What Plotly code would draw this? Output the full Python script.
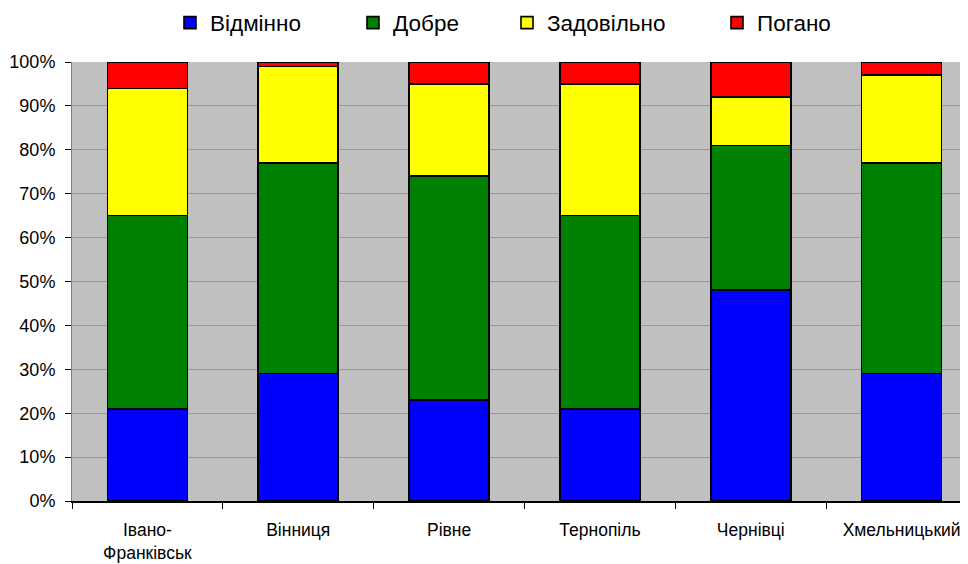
import plotly.graph_objects as go

categories = ["Івано-<br>Франківськ", "Вінниця", "Рівне", "Тернопіль", "Чернівці", "Хмельницький"]
series_names = ["Відмінно", "Добре", "Задовільно", "Погано"]
vidminno = [21, 29, 23, 21, 48, 29]
dobre = [44, 48, 51, 44, 33, 48]
zadovilno = [29, 22, 21, 30, 11, 20]
pohano = [6, 1, 5, 5, 8, 3]
colors = ["#0000FF", "#008000", "#FFFF00", "#FF0000"]
y_ticks = [0, 10, 20, 30, 40, 50, 60, 70, 80, 90, 100]
y_tick_labels = [f"{v}%" for v in y_ticks]

# page body has an 8px default margin, so the figure is drawn from (8, 8)
OFF = 8
W, H = 968 - OFF, 564 - OFF
L, R, T, B = 72 - OFF, 0, 62 - OFF, 63
pw, ph = W - L - R, H - T - B

fig = go.Figure()
legend_ids = ["legend", "legend2", "legend3", "legend4"]
sym_left = [184, 367, 521, 731]
for name, vals, col, lg in zip(series_names, [vidminno, dobre, zadovilno, pohano], colors, legend_ids):
    fig.add_trace(go.Bar(
        x=categories, y=vals, name=name, legend=lg,
        marker=dict(color=col, line=dict(color="#000000", width=1.6)),
        width=0.53,
    ))

font = dict(family="Liberation Sans, Arial, sans-serif", color="#000000")
layout_legends = {}
for lg, sx in zip(legend_ids, sym_left):
    layout_legends[lg] = dict(
        orientation="h", x=(sx - OFF - 14 - L) / pw, xanchor="left",
        y=1 + (T - (23 - OFF)) / ph, yanchor="middle",
        font=dict(size=22.5, **font), bgcolor="rgba(0,0,0,0)", borderwidth=0,
    )

fig.update_layout(
    width=W, height=H,
    margin=dict(l=L, r=R, t=T, b=B, pad=0, autoexpand=False),
    barmode="stack",
    paper_bgcolor="#FFFFFF",
    plot_bgcolor="#C0C0C0",
    font=dict(size=18, **font),
    showlegend=True,
    **layout_legends,
)
fig.update_xaxes(
    type="category", range=[-0.5, 5.44], tickson="boundaries",
    ticks="outside", ticklen=6, tickcolor="#000000", tickwidth=1,
    showline=True, linecolor="#000000", linewidth=2,
    showgrid=False, tickfont=dict(size=17.5, **font), ticklabelstandoff=12,
    automargin=False,
)
fig.update_yaxes(
    range=[0, 100], tickvals=y_ticks, ticktext=y_tick_labels,
    ticks="outside", ticklen=6, tickcolor="#000000", tickwidth=1,
    showline=True, linecolor="#808080", linewidth=1,
    showgrid=True, gridcolor="#999999", gridwidth=1, zeroline=False,
    tickfont=dict(size=18, **font), ticklabelstandoff=6,
    automargin=False,
)
fig.write_html("out.html")
